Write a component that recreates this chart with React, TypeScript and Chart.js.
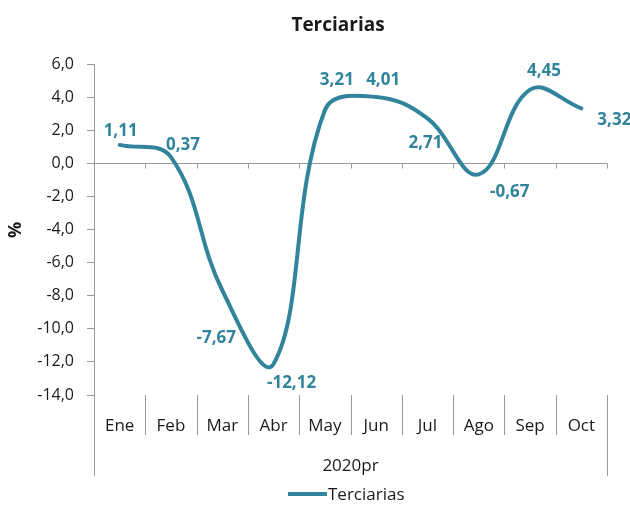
import React, { useEffect, useRef } from "react";
import { Chart, registerables } from "chart.js";
Chart.register(...registerables);

const chartTitle = "Terciarias";
const seriesName = "Terciarias";
const groupLabel = "2020pr";
const yAxisTitle = "%";
const categories = ["Ene", "Feb", "Mar", "Abr", "May", "Jun", "Jul", "Ago", "Sep", "Oct"];
const values = [1.11, 0.37, -7.67, -12.12, 3.21, 4.01, 2.71, -0.67, 4.45, 3.32];
const yMin = -14;
const yMax = 6;
const yStep = 2;
// label offsets (dx, dy) from each point, in pixels
const labelOffsets = [
  [1, -14], [12, -12], [-6, 48], [18, 19], [12, -30],
  [7, -17], [-2, 25], [31, 18], [14, -18], [33, 12],
];

const TEAL = "#31849B";
const AXIS = "#9a9a9a";
const TEXT = "#1a1a1a";
const FONT = "'Open Sans', 'Noto Sans', sans-serif";

const fmt = (v: number, d: number) => v.toFixed(d).replace(".", ",");

function boundsOf(chart: any): number[] {
  const { chartArea } = chart;
  const x = chart.scales.x;
  const n = categories.length;
  const b: number[] = [];
  for (let i = 0; i <= n; i++) {
    if (i === 0) b.push(chartArea.left);
    else if (i === n) b.push(chartArea.right);
    else b.push((x.getPixelForValue(i - 1) + x.getPixelForValue(i)) / 2);
  }
  return b;
}

const customPlugin = {
  id: "custom",
  beforeDatasetsDraw(chart: any) {
    const { ctx, chartArea } = chart;
    const y = chart.scales.y;
    const n = categories.length;
    const bounds = boundsOf(chart);
    const y0 = Math.round(y.getPixelForValue(0)) + 0.5;
    ctx.save();
    ctx.strokeStyle = AXIS;
    ctx.lineWidth = 1;
    ctx.beginPath();
    ctx.moveTo(chartArea.left, y0);
    ctx.lineTo(chartArea.right, y0);
    for (let i = 1; i <= n; i++) {
      const bx = Math.round(bounds[i]) + 0.5;
      ctx.moveTo(bx, y0);
      ctx.lineTo(bx, y0 + 5);
    }
    ctx.stroke();
    ctx.restore();
  },
  afterDraw(chart: any) {
    const { ctx, chartArea } = chart;
    const x = chart.scales.x;
    const n = categories.length;
    const bounds = boundsOf(chart);
    ctx.save();
    // separators below plot
    ctx.strokeStyle = AXIS;
    ctx.lineWidth = 1;
    ctx.beginPath();
    const bot = chartArea.bottom;
    for (let i = 0; i <= n; i++) {
      const bx = Math.round(bounds[i]) + 0.5;
      const len = i === 0 || i === n ? 81 : 40;
      ctx.moveTo(bx, bot);
      ctx.lineTo(bx, bot + len);
    }
    ctx.stroke();

    // category labels
    ctx.fillStyle = TEXT;
    ctx.font = `17px ${FONT}`;
    ctx.textAlign = "center";
    ctx.textBaseline = "alphabetic";
    categories.forEach((c, i) => {
      ctx.fillText(c, x.getPixelForValue(i), bot + 36);
    });
    ctx.fillText(groupLabel, (chartArea.left + chartArea.right) / 2, bot + 76);

    // title
    ctx.font = `bold 19px ${FONT}`;
    ctx.fillText(chartTitle, 338, 31);

    // y title
    ctx.save();
    ctx.translate(16, 230);
    ctx.rotate(-Math.PI / 2);
    ctx.textBaseline = "middle";
    ctx.font = `bold 18px ${FONT}`;
    ctx.fillText(yAxisTitle, 0, 0);
    ctx.restore();

    // legend
    ctx.strokeStyle = TEAL;
    ctx.lineWidth = 4;
    ctx.beginPath();
    ctx.moveTo(288, 494);
    ctx.lineTo(327, 494);
    ctx.stroke();
    ctx.font = `17px ${FONT}`;
    ctx.textAlign = "left";
    ctx.fillStyle = TEXT;
    ctx.fillText(seriesName, 328, 500);

    // data labels
    ctx.fillStyle = TEAL;
    ctx.font = `bold 17px ${FONT}`;
    ctx.textAlign = "center";
    ctx.textBaseline = "middle";
    const meta = chart.getDatasetMeta(0);
    meta.data.forEach((pt: any, i: number) => {
      const [dx, dy] = labelOffsets[i];
      ctx.fillText(fmt(values[i], 2), pt.x + dx, pt.y + dy);
    });
    ctx.restore();
  },
};

export default function App() {
  const ref = useRef<HTMLCanvasElement | null>(null);
  useEffect(() => {
    document.body.style.margin = "0";
    const canvas = ref.current!;
    const chart = new Chart(canvas, {
      type: "line",
      data: {
        labels: categories,
        datasets: [
          {
            label: seriesName,
            data: values,
            borderColor: TEAL,
            backgroundColor: TEAL,
            borderWidth: 4,
            pointRadius: 0,
            tension: 0.4,
            borderCapStyle: "round",
            borderJoinStyle: "round",
          },
        ],
      },
      options: {
        responsive: false,
        animation: false,
        devicePixelRatio: 1,
        layout: { padding: { left: 0, right: 23, top: 64, bottom: 111 } },
        plugins: {
          legend: { display: false },
          title: { display: false },
          tooltip: { enabled: false },
        },
        scales: {
          x: {
            type: "category",
            offset: true,
            display: false,
          },
          y: {
            min: yMin,
            max: yMax,
            ticks: {
              stepSize: yStep,
              font: { family: FONT, size: 16 },
              color: TEXT,
              padding: 13,
              callback: (v: any) => fmt(Number(v), 1),
            },
            grid: {
              drawOnChartArea: false,
              drawTicks: true,
              tickLength: 7,
              color: AXIS,
            },
            border: { display: true, color: AXIS, width: 1 },
            afterFit: (s: any) => {
              s.width = 94;
            },
          },
        },
      },
      plugins: [customPlugin],
    });
    return () => chart.destroy();
  }, []);
  return (
    <div style={{ width: 630, height: 506 }}>
      <canvas ref={ref} width={630} height={506} style={{ display: "block" }} />
    </div>
  );
}
